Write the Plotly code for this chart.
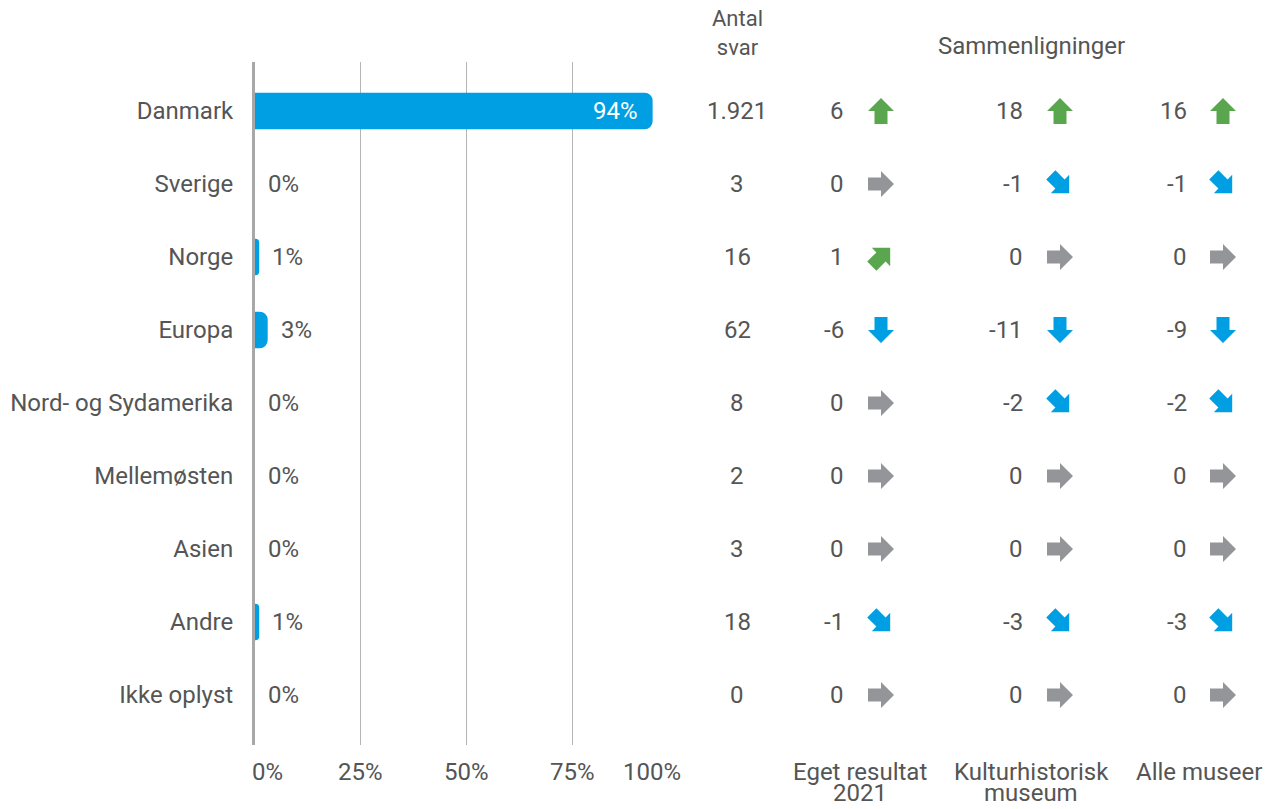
import math
import plotly.graph_objects as go

# ---------------- data ----------------
categories = ["Danmark", "Sverige", "Norge", "Europa", "Nord- og Sydamerika",
              "Mellemøsten", "Asien", "Andre", "Ikke oplyst"]
shares = [94, 0, 1, 3, 0, 0, 0, 1, 0]
counts = ["1.921", "3", "16", "62", "8", "2", "3", "18", "0"]
eget_2021 = [6, 0, 1, -6, 0, 0, 0, -1, 0]
kulturhistorisk = [18, -1, 0, -11, -2, 0, 0, -3, 0]
alle_museer = [16, -1, 0, -9, -2, 0, 0, -3, 0]
comparison_series = [eget_2021, kulturhistorisk, alle_museer]
comparison_labels = [["Eget resultat", "2021"], ["Kulturhistorisk", "museum"], ["Alle museer"]]
count_header = ["Antal", "svar"]
comparison_header = "Sammenligninger"
x_ticks = [0, 25, 50, 75, 100]

# ---------------- layout constants ----------------
W, H = 1277, 809
T, B = 62, 64
PLOT_H = H - T - B
Y_MIN, Y_MAX = -0.671, 8.685
PX_PER_ROW = PLOT_H / (Y_MAX - Y_MIN)
BAR_L, BAR_R = 255, 678
X2_L = 690

FONT = "Roboto"
TXT = "#555555"
FS = 24
BLUE = "#009FE3"
GREEN = "#5AA64F"
GREY = "#939598"

COUNT_X = 737
NUM_RIGHT = [846, 1025, 1189]
ARROW_X = [881, 1060, 1223]
COL_CENTER = [860, 1031, 1199]

# arrow glyph outline (pointing up, pixels, screen y downwards)
ARROW_GLYPH = [(0, -13), (13, 0), (6.5, 0), (6.5, 13), (-6.5, 13), (-6.5, 0), (-13, 0), (0, -13)]


def py_to_paper(py):
    return (H - B - py) / PLOT_H


rows = list(range(len(categories)))

fig = go.Figure()

# bars
fig.add_trace(go.Bar(
    y=rows, x=shares, orientation="h", width=0.5,
    marker=dict(color=BLUE, line=dict(width=0), cornerradius=8),
    hoverinfo="skip", xaxis="x", yaxis="y",
))

annotations = []

# bar value labels
for r, v in zip(rows, shares):
    if v > 20:
        annotations.append(dict(x=v, y=r, xref="x", yref="y", text=f"{v}%", showarrow=False,
                                xanchor="right", xshift=-13,
                                font=dict(family=FONT, size=FS, color="white")))
    else:
        annotations.append(dict(x=v, y=r, xref="x", yref="y", text=f"{v}%", showarrow=False,
                                xanchor="left", xshift=11,
                                font=dict(family=FONT, size=FS, color=TXT)))

# x tick labels
for i, t in enumerate(x_ticks):
    if i == 0:
        anchor, shift = "left", -5
    elif i == len(x_ticks) - 1:
        anchor, shift = "right", 5
    else:
        anchor, shift = "center", 0
    annotations.append(dict(x=t, y=py_to_paper(772), xref="x", yref="paper", text=f"{t}%",
                            showarrow=False, xanchor=anchor, xshift=shift, yanchor="middle",
                            font=dict(family=FONT, size=FS, color=TXT)))

# count column
for r, c in zip(rows, counts):
    annotations.append(dict(x=COUNT_X, y=r, xref="x2", yref="y", text=c, showarrow=False,
                            xanchor="center", font=dict(family=FONT, size=FS, color=TXT)))
annotations.append(dict(x=COUNT_X, y=py_to_paper(33), xref="x2", yref="paper",
                        text="<br>".join(count_header), showarrow=False, xanchor="center",
                        yanchor="middle", font=dict(family=FONT, size=FS - 2, color=TXT)))
annotations.append(dict(x=COL_CENTER[1], y=py_to_paper(46), xref="x2", yref="paper",
                        text=comparison_header, showarrow=False, xanchor="center",
                        yanchor="middle", font=dict(family=FONT, size=FS, color=TXT)))

# comparison columns: numbers + arrows
arrow_paths = {GREEN: ([], []), GREY: ([], []), BLUE: ([], [])}
for col, series in enumerate(comparison_series):
    labels = comparison_labels[col]
    annotations.append(dict(x=COL_CENTER[col], y=py_to_paper(772), xref="x2", yref="paper",
                            text=labels[0], showarrow=False, xanchor="center", yanchor="middle",
                            font=dict(family=FONT, size=FS, color=TXT)))
    if len(labels) > 1:
        annotations.append(dict(x=COL_CENTER[col], y=py_to_paper(H), xref="x2", yref="paper",
                                text=labels[1], showarrow=False, xanchor="center",
                                yanchor="bottom",
                                font=dict(family=FONT, size=FS, color=TXT)))
    for r, v in zip(rows, series):
        annotations.append(dict(x=NUM_RIGHT[col], y=r, xref="x2", yref="y", text=str(v),
                                showarrow=False, xanchor="right",
                                font=dict(family=FONT, size=FS, color=TXT)))
        if v >= 5:
            ang, colr = 0, GREEN
        elif v > 0:
            ang, colr = 45, GREEN
        elif v == 0:
            ang, colr = 90, GREY
        elif v > -5:
            ang, colr = 135, BLUE
        else:
            ang, colr = 180, BLUE
        c, s = math.cos(math.radians(ang)), math.sin(math.radians(ang))
        xs, ys = arrow_paths[colr]
        for gx, gy in ARROW_GLYPH:
            rx = gx * c - gy * s
            ry = gx * s + gy * c
            xs.append(ARROW_X[col] + rx)
            ys.append(r + ry / PX_PER_ROW)
        xs.append(None)
        ys.append(None)

for colr, (xs, ys) in arrow_paths.items():
    fig.add_trace(go.Scatter(
        x=xs, y=ys, mode="lines", fill="toself", fillcolor=colr,
        line=dict(width=0, color=colr), xaxis="x2", yaxis="y", hoverinfo="skip",
    ))

fig.update_layout(
    width=W, height=H,
    margin=dict(l=0, r=0, t=T, b=B, pad=0),
    paper_bgcolor="white", plot_bgcolor="white",
    showlegend=False,
    font=dict(family=FONT, size=FS, color=TXT),
    xaxis=dict(domain=[BAR_L / W, BAR_R / W], range=[0, 100], tickvals=x_ticks,
               showticklabels=False, ticks="", showgrid=True, gridcolor="#b5b5b5", gridwidth=1,
               zeroline=False, showline=False, fixedrange=True),
    xaxis2=dict(domain=[X2_L / W, 1], range=[X2_L, W], visible=False, anchor="y",
                fixedrange=True),
    yaxis=dict(range=[Y_MAX, Y_MIN], tickvals=rows, ticktext=categories, anchor="x",
               showgrid=False, zeroline=False, showline=True, linecolor="#a8a8a8", linewidth=3,
               ticks="", ticklabelstandoff=14,
               tickfont=dict(family=FONT, size=FS, color=TXT), fixedrange=True),
    annotations=annotations,
)

fig.write_html("out.html", config={"displayModeBar": False},
               post_script="document.body.style.margin='0';")
